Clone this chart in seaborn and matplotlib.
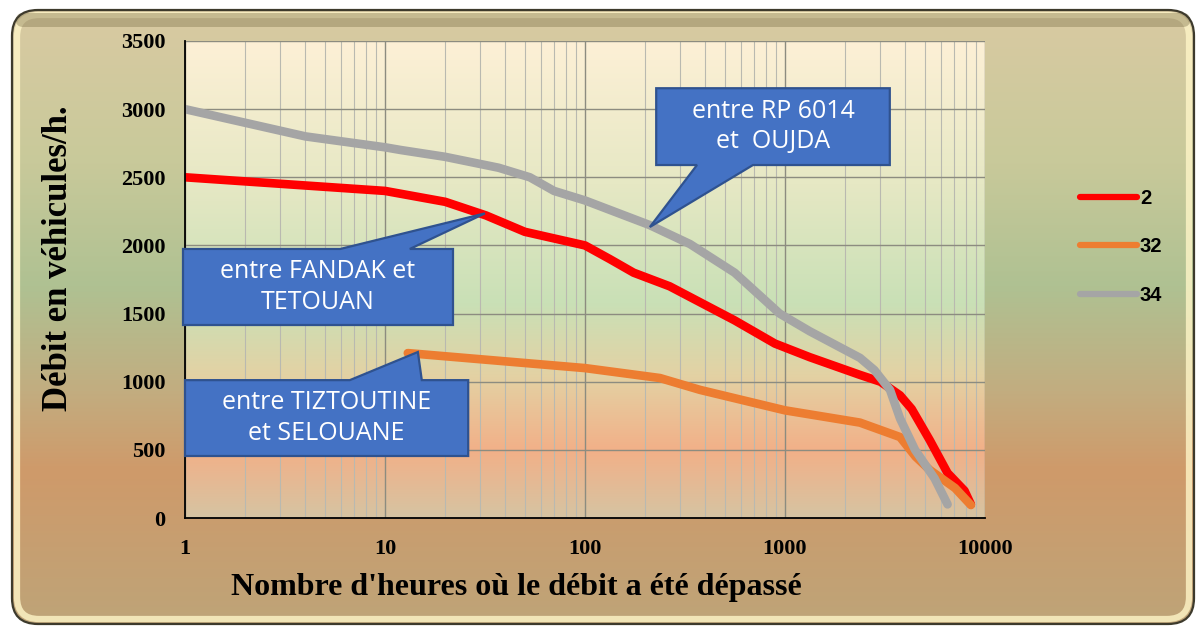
import numpy as np
import pandas as pd
import matplotlib
matplotlib.use("Agg")
import matplotlib.pyplot as plt
import seaborn as sns
from matplotlib.colors import LinearSegmentedColormap
from matplotlib.patches import FancyBboxPatch, Polygon

# --- data: hours exceeded vs. traffic flow, per road section ---
hours_2 = [1, 10, 20, 32, 50, 100, 133, 175, 265, 560, 890, 1330, 2370, 3000,
           3760, 4300, 5300, 6500, 7900, 8500]
flow_2 = [2500, 2400, 2320, 2220, 2100, 2000, 1900, 1800, 1700, 1450, 1280,
          1180, 1050, 1000, 900, 800, 570, 330, 200, 100]

hours_32 = [13, 100, 237, 376, 1000, 2370, 3760, 4500, 5300, 7080, 8500]
flow_32 = [1210, 1100, 1027, 940, 790, 700, 594, 450, 352, 220, 95]

hours_34 = [1, 4, 10, 12, 20, 37, 53, 70, 100, 210, 335, 560, 940, 1330, 2370,
            2800, 3350, 3760, 4470, 5600, 6500]
flow_34 = [3000, 2800, 2720, 2700, 2650, 2570, 2500, 2400, 2330, 2150, 2010,
           1800, 1500, 1370, 1175, 1085, 940, 730, 500, 290, 100]

series_names = ["2", "32", "34"]
series_colors = ["#FF0000", "#ED7D31", "#A5A5A5"]

x_ticks = [1, 10, 100, 1000, 10000]
x_tick_labels = ["1", "10", "100", "1000", "10000"]
y_ticks = [0, 500, 1000, 1500, 2000, 2500, 3000, 3500]

callout_texts = ["entre FANDAK et\nTETOUAN",
                 "entre TIZTOUTINE\net SELOUANE",
                 "entre RP 6014\net  OUJDA"]

df = pd.concat([
    pd.DataFrame({"heures": hours_2, "debit": flow_2, "section": "2"}),
    pd.DataFrame({"heures": hours_32, "debit": flow_32, "section": "32"}),
    pd.DataFrame({"heures": hours_34, "debit": flow_34, "section": "34"}),
], ignore_index=True)

sns.set_theme(style="white")
plt.rcParams["font.family"] = ["Liberation Serif", "DejaVu Serif"]
plt.rcParams["text.color"] = "black"
plt.rcParams["axes.labelcolor"] = "black"
plt.rcParams["xtick.color"] = "black"
plt.rcParams["ytick.color"] = "black"

W, H = 1198, 630
fig = plt.figure(figsize=(W / 100, H / 100), dpi=100)
fig.patch.set_facecolor("white")

# --- framed, rounded background with vertical gradient ---
bg = fig.add_axes([0, 0, 1, 1], zorder=-10)
bg.set_xlim(0, W)
bg.set_ylim(H, 0)
bg.axis("off")
bg_cmap = LinearSegmentedColormap.from_list("bg", [
    (0.00, "#d9caa2"), (0.25, "#c8c99a"), (0.45, "#afc192"),
    (0.62, "#c2ad80"), (0.75, "#cf9a6a"), (1.00, "#bea478")])
grad = np.linspace(0, 1, 256).reshape(-1, 1)
img = bg.imshow(grad, cmap=bg_cmap, aspect="auto",
                extent=(12, 1194, 624, 10), zorder=0)
frame = FancyBboxPatch((12, 10), 1182, 614,
                       boxstyle="round,pad=0,rounding_size=26",
                       facecolor="none", edgecolor="#3d3a2c", lw=1.6, zorder=3)
bg.add_patch(frame)
img.set_clip_path(frame)
# light bevel along the inner edge
bevel = FancyBboxPatch((17, 15), 1172, 604,
                       boxstyle="round,pad=0,rounding_size=22",
                       facecolor="none", edgecolor="#fff6c8", lw=4.5,
                       alpha=0.8, zorder=2)
bg.add_patch(bevel)
top_shade = FancyBboxPatch((16, 13), 1174, 14,
                           boxstyle="round,pad=0,rounding_size=7",
                           facecolor="#8a7e56", edgecolor="none",
                           alpha=0.45, zorder=2.5)
bg.add_patch(top_shade)

# --- main axes ---
ax = fig.add_axes([185 / W, 1 - 518 / H, 800 / W, 477 / H])
ax.set_xscale("log")
ax.set_xlim(1, 10000)
ax.set_ylim(0, 3500)

plot_cmap = LinearSegmentedColormap.from_list("plot", [
    (0.00, "#fdf0d6"), (0.30, "#e6e8c4"), (0.55, "#c9e0b6"),
    (0.70, "#e3d2a4"), (0.86, "#f2b088"), (1.00, "#d6c4a2")])
ax.imshow(grad, cmap=plot_cmap, aspect="auto", extent=(0, 1, 0, 1),
          transform=ax.transAxes, zorder=0)
ax.set_facecolor("none")

sns.lineplot(data=df, x="heures", y="debit", hue="section",
             hue_order=series_names, palette=series_colors,
             linewidth=6.2, sort=False, estimator=None, ax=ax, zorder=4,
             solid_capstyle="round", solid_joinstyle="round")

# grid
ax.set_xticks(x_ticks)
ax.set_xticklabels(x_tick_labels)
ax.set_yticks(y_ticks)
ax.xaxis.set_minor_locator(matplotlib.ticker.LogLocator(base=10, subs=np.arange(2, 10)))
ax.xaxis.set_minor_formatter(matplotlib.ticker.NullFormatter())
ax.grid(True, which="major", axis="both", color="#8c8c80", lw=1.0, zorder=1)
ax.grid(True, which="minor", axis="x", color="#b9b9b0", lw=0.8, zorder=1)
ax.set_axisbelow(True)

for side in ["top", "right"]:
    ax.spines[side].set_visible(False)
for side in ["left", "bottom"]:
    ax.spines[side].set_color("black")
    ax.spines[side].set_linewidth(1.3)
    ax.spines[side].set_zorder(5)

ax.tick_params(axis="both", which="major", direction="out", length=6,
               width=1, color="#333333", labelsize=16, pad=8)
ax.tick_params(axis="x", which="minor", length=0)
ax.tick_params(axis="x", pad=9)
for lab in ax.get_xticklabels() + ax.get_yticklabels():
    lab.set_fontweight("bold")

ax.set_xlabel("Nombre d'heures où le débit a été dépassé",
              fontsize=23, fontweight="bold")
ax.xaxis.set_label_coords(0.414, -0.115)
ax.set_ylabel("Débit en véhicules/h.", fontsize=25, fontweight="bold")
ax.yaxis.set_label_coords(-0.137, 0.545)

# legend
leg = ax.legend(loc="center left", bbox_to_anchor=(1080 / W, 1 - 247 / H),
                bbox_transform=fig.transFigure, frameon=False,
                prop={"family": "Liberation Sans", "weight": "bold", "size": 14.5},
                handlelength=2.85, handletextpad=0.12, labelspacing=1.45,
                borderpad=0, borderaxespad=0)
for line in leg.get_lines():
    line.set_linewidth(4.5)
    line.set_solid_capstyle("round")
for t in leg.get_texts():
    t.set_color("black")


# --- callouts (box in axes fraction, tip on a data point) ---
def callout(box, base, base_edge, tip_data, text, fs):
    x0, x1, y0, y1 = box
    tip = ax.transAxes.inverted().transform(ax.transData.transform(tip_data))
    b0, b1 = base
    if base_edge == "top":
        pts = [(x0, y0), (x1, y0), (x1, y1), (b1, y1), tuple(tip), (b0, y1), (x0, y1)]
    else:
        pts = [(x0, y0), (b0, y0), tuple(tip), (b1, y0), (x1, y0), (x1, y1), (x0, y1)]
    poly = Polygon(pts, closed=True, transform=ax.transAxes,
                   facecolor="#4472C4", edgecolor="#2F528F", lw=1.6,
                   zorder=6, clip_on=False, joinstyle="miter")
    ax.add_patch(poly)
    ax.text((x0 + x1) / 2, (y0 + y1) / 2, text, transform=ax.transAxes,
            ha="center", va="center", color="white", fontsize=fs,
            family=["Open Sans", "DejaVu Sans"], linespacing=1.3, zorder=7)


callout((-0.0025, 0.335, 0.4046, 0.564), (0.194, 0.281), "top",
        (31.6, 2235), callout_texts[0], 18)
callout((0.0, 0.354, 0.130, 0.289), (0.206, 0.296), "top",
        (14.6, 1218), callout_texts[1], 18)
callout((0.589, 0.881, 0.740, 0.901), (0.64, 0.71), "bottom",
        (211, 2135), callout_texts[2], 18)

fig.savefig("out.png", dpi=100, facecolor=fig.get_facecolor())
